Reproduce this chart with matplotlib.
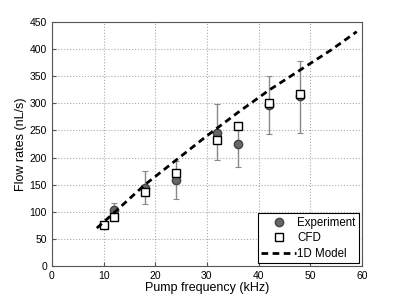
import numpy as np
import matplotlib
matplotlib.use("Agg")
import matplotlib.pyplot as plt

plt.rcParams["font.family"] = ["Liberation Sans", "DejaVu Sans"]

# Experiment (mean with error bars)
exp_freq = [12, 18, 24, 32, 36, 42, 48]
exp_flow = [103, 143, 158, 245, 225, 297, 313]
exp_low = [90, 115, 123, 195, 183, 243, 245]
exp_high = [117, 175, 193, 298, 265, 350, 378]

# CFD
cfd_freq = [10, 12, 18, 24, 32, 36, 42, 48]
cfd_flow = [75, 90, 137, 172, 232, 258, 300, 317]

# 1D model
model_freq = [8.7, 12, 18, 24, 30, 36, 42, 48, 54, 59]
model_flow = [70, 98, 150, 195, 240, 283, 324, 361, 398, 432]

exp_flow_a = np.array(exp_flow)
yerr = [exp_flow_a - np.array(exp_low), np.array(exp_high) - exp_flow_a]

fig = plt.figure(figsize=(3.99, 3.0), dpi=100)
ax = fig.add_axes([0.130, 0.113, 0.777, 0.814])

ax.errorbar(exp_freq, exp_flow, yerr=yerr, fmt="none", ecolor="#888888",
            elinewidth=1, capsize=2, capthick=0.8, zorder=2)
ax.plot(exp_freq, exp_flow, "o", color="#666666", mec="#444444", ms=6,
        label="Experiment", zorder=3)
ax.plot(cfd_freq, cfd_flow, "s", mfc="white", mec="black", ms=6, mew=1,
        label="CFD", zorder=4)
ax.plot(model_freq, model_flow, "--", color="black", lw=2.0, dashes=(2.4, 1.6),
        label="1D Model", zorder=5)

ax.set_xlim(0, 60)
ax.set_ylim(0, 450)
ax.set_xticks(range(0, 61, 10))
ax.set_yticks(range(0, 451, 50))
ax.grid(True, linestyle=":", color="#aaaaaa", linewidth=0.8)
ax.tick_params(direction="in", labelsize=7.5, length=3, color="#555555")
for s in ax.spines.values():
    s.set_color("#555555")
ax.set_xlabel("Pump frequency (kHz)", fontsize=9, labelpad=1)
ax.set_ylabel("Flow rates (nL/s)", fontsize=9, labelpad=2)

leg = ax.legend(loc="lower right", fontsize=8.3, fancybox=False, framealpha=1,
                edgecolor="black", borderaxespad=0.25, handlelength=3.0,
                handletextpad=0.1, borderpad=0.3, labelspacing=0.3)
leg.get_frame().set_linewidth(0.8)

fig.savefig("out.png", dpi=100)
